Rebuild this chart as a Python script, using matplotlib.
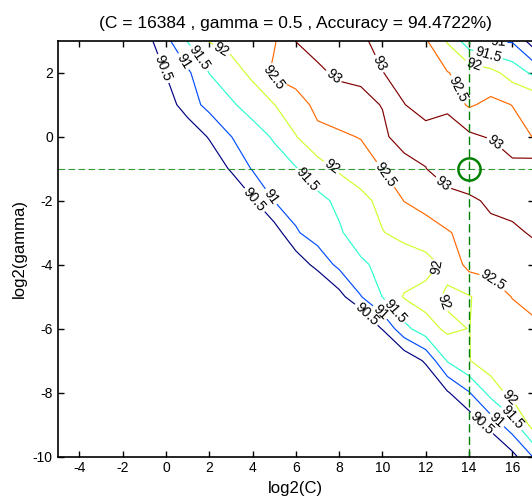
import matplotlib.pyplot as plt
import numpy as np

plt.rcParams['font.family'] = ['Liberation Sans', 'DejaVu Sans']
plt.rcParams['axes.unicode_minus'] = False

# grid search: log2(C) columns, log2(gamma) rows
log2c = [-5, -4, -3, -2, -1, 0, 1, 2, 3, 4, 5, 6, 7, 8, 9, 10, 11, 12, 13, 14, 15, 16, 17]
log2g = [3, 2, 1, 0, -1, -2, -3, -4, -5, -6, -7, -8, -9, -10]

# cross-validation accuracy (%), one list per log2(gamma) row
acc_g3 = [88.7, 89.1, 89.5, 89.9, 90.27, 90.86, 91.52, 92.02, 92.17, 92.33, 92.45, 93.01,
          93.2, 93.25, 93.07, 92.87, 92.69, 92.55, 91.95, 91.2, 90.97, 90.95, 90.22]
acc_g2 = [88.5, 88.9, 89.3, 89.7, 90.13, 90.52, 90.91, 91.51, 91.79, 92.11, 92.6, 92.7,
          92.9, 93.1, 93.1, 93.01, 92.85, 92.68, 92.52, 92.31, 92.15, 91.79, 91.39]
acc_g1 = [88.1, 88.5, 88.9, 89.3, 89.7, 90.23, 90.77, 91.15, 91.43, 91.71, 91.99, 92.31,
          92.61, 92.72, 92.87, 93.02, 93.01, 92.84, 92.8, 92.44, 92.62, 92.49, 92.45]
acc_g0 = [87.7, 88.1, 88.5, 88.9, 89.3, 89.7, 90.1, 90.55, 90.99, 91.27, 91.56, 91.98,
          92.39, 92.44, 92.52, 92.89, 93.26, 93.16, 93.5, 93.1, 92.95, 92.68, 92.48]
acc_gm1 = [87.2, 87.6, 88.0, 88.4, 88.8, 89.2, 89.6, 90.04, 90.57, 91.04, 91.25, 91.47,
           91.77, 92.07, 92.29, 92.51, 92.75, 92.99, 93.3, 93.9, 93.6, 93.16, 93.25]
acc_gm2 = [86.6, 87.0, 87.4, 87.8, 88.2, 88.6, 89.0, 89.4, 89.85, 90.44, 91.01, 91.19,
           91.38, 91.59, 91.84, 92.15, 92.51, 92.65, 92.78, 92.78, 93.2, 93.15, 93.3]
acc_gm3 = [85.9, 86.3, 86.7, 87.1, 87.5, 87.9, 88.3, 88.7, 89.1, 89.6, 90.25, 90.95,
           91.22, 91.45, 91.71, 91.98, 92.15, 92.31, 92.47, 92.62, 92.7, 92.92, 93.05]
acc_gm4 = [85.5, 85.9, 86.3, 86.7, 87.1, 87.5, 87.9, 88.3, 88.7, 89.1, 89.6, 90.16,
           90.68, 91.12, 91.43, 91.61, 91.7, 91.8, 92.14, 92.65, 92.7, 92.75, 92.8]
acc_gm5 = [84.6, 85.0, 85.4, 85.8, 86.2, 86.6, 87.0, 87.4, 87.8, 88.2, 88.6, 89.1,
           89.7, 90.32, 90.98, 91.51, 92.04, 92.2, 91.92, 91.97, 92.21, 92.52, 92.6]
acc_gm6 = [83.4, 83.8, 84.2, 84.6, 85.0, 85.4, 85.8, 86.2, 86.6, 87.0, 87.4, 87.9,
           88.4, 89.0, 89.7, 90.55, 91.35, 91.8, 92.1, 91.99, 92.25, 92.23, 92.44]
acc_gm7 = [82.4, 82.8, 83.2, 83.6, 84.0, 84.4, 84.8, 85.2, 85.6, 86.0, 86.4, 86.8,
           87.3, 87.8, 88.4, 89.0, 90.1, 90.58, 91.54, 91.98, 92.3, 92.4, 92.45]
acc_gm8 = [82.2, 82.6, 83.0, 83.4, 83.8, 84.2, 84.6, 85.0, 85.4, 85.8, 86.2, 86.6,
           87.1, 87.6, 88.1, 88.7, 89.3, 89.9, 90.45, 90.97, 91.67, 92.2, 92.4]
acc_gm9 = [81.8, 82.2, 82.6, 83.0, 83.4, 83.8, 84.2, 84.6, 85.0, 85.4, 85.8, 86.2,
           86.6, 87.1, 87.6, 88.1, 88.6, 89.1, 89.6, 90.14, 90.69, 91.29, 92.25]
acc_gm10 = [81.6, 82.0, 82.4, 82.8, 83.2, 83.6, 84.0, 84.4, 84.8, 85.2, 85.6, 86.0,
            86.4, 86.8, 87.2, 87.6, 88.0, 88.4, 88.8, 89.3, 89.8, 90.34, 91.05]

levels = [90.5, 91, 91.5, 92, 92.5, 93]

best_c = 14
best_g = -1
best_C = 16384
best_gamma = 0.5
best_acc = 94.4722

# where the contour labels sit (log2C, log2gamma)
label_pos = [(-0.24, 2.1), (0.76, 2.33), (1.37, 2.38), (2.53, 2.7), (4.85, 1.8),
             (7.65, 1.8), (9.75, 2.25), (13.39, 1.45), (14.23, 2.3), (14.85, 2.49),
             (15.32, 2.85), (15.25, -0.15), (6.6, -1.3), (7.6, -1.0), (10.1, -1.2),
             (12.75, -1.5), (4.9, -1.85), (3.95, -2.05), (12.8, -4.2), (15.1, -4.5),
             (12.75, -5.2), (9.23, -5.58), (9.92, -5.47), (10.7, -5.37),
             (15.8, -8.2), (16.1, -8.75), (15.3, -8.85), (14.45, -9.05)]

Z = np.array([acc_g3, acc_g2, acc_g1, acc_g0, acc_gm1, acc_gm2, acc_gm3, acc_gm4,
              acc_gm5, acc_gm6, acc_gm7, acc_gm8, acc_gm9, acc_gm10])
C, G = np.meshgrid(log2c, log2g)

fig = plt.figure(figsize=(5.32, 4.98), dpi=100)
ax = fig.add_axes([57.7 / 532, 41.4 / 498, 476.3 / 532, 415.9 / 498])

cs = ax.contour(C, G, Z, levels=levels, cmap='jet', linewidths=0.85)
ax.clabel(cs, fmt='%g', fontsize=10, colors='k', manual=label_pos,
          inline=True, inline_spacing=2)

ax.axvline(best_c, color='green', ls='--', lw=1.0, dashes=(6, 3))
ax.axhline(best_g, color='green', ls='--', lw=0.8, dashes=(6, 3), alpha=0.8)
ax.plot(best_c, best_g, 'o', mfc='none', mec='green', ms=16, mew=1.8)

ax.set_xlim(-5, 17)
ax.set_ylim(-10, 3)
ax.set_xticks([-4, -2, 0, 2, 4, 6, 8, 10, 12, 14, 16])
ax.set_yticks([-10, -8, -6, -4, -2, 0, 2])
ax.tick_params(direction='in', top=True, right=True, length=4, width=1, labelsize=10)
for s in ax.spines.values():
    s.set_linewidth(1.2)

ax.set_xlabel('log2(C)', fontsize=12)
ax.set_ylabel('log2(gamma)', fontsize=12)
ax.set_title('(C = %d , gamma = %g , Accuracy = %g%%)' % (best_C, best_gamma, best_acc),
             fontsize=12.5, pad=9)

fig.savefig('out.png', dpi=100)
